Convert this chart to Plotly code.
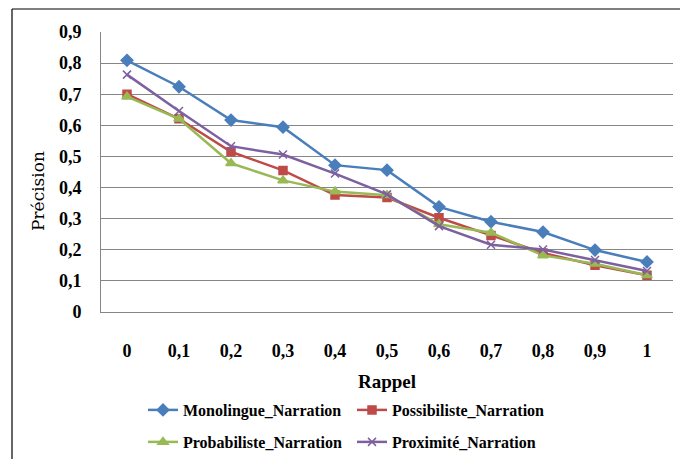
import plotly.graph_objects as go

rappel = ["0", "0,1", "0,2", "0,3", "0,4", "0,5", "0,6", "0,7", "0,8", "0,9", "1"]
monolingue = [0.809, 0.724, 0.617, 0.594, 0.472, 0.456, 0.338, 0.290, 0.257, 0.199, 0.161]
possibiliste = [0.700, 0.621, 0.515, 0.455, 0.376, 0.368, 0.303, 0.246, 0.190, 0.150, 0.118]
probabiliste = [0.692, 0.621, 0.478, 0.423, 0.387, 0.375, 0.282, 0.255, 0.182, 0.155, 0.118]
proximite = [0.763, 0.646, 0.533, 0.506, 0.445, 0.378, 0.276, 0.216, 0.201, 0.167, 0.132]

series = [
    ("Monolingue_Narration", monolingue, "#4A7EBB", "diamond", 9, "legend"),
    ("Possibiliste_Narration", possibiliste, "#BE4B48", "square", 8, "legend"),
    ("Probabiliste_Narration", probabiliste, "#98B954", "triangle-up", 9, "legend2"),
    ("Proximité_Narration", proximite, "#7D60A0", "x-thin-open", 8, "legend2"),
]

fig = go.Figure()
for name, vals, col, sym, sz, lg in series:
    fig.add_trace(go.Scatter(
        x=rappel, y=vals, name=name, mode="lines+markers", legend=lg,
        line=dict(color=col, width=2.5),
        marker=dict(symbol=sym, size=sz, color=col, line=dict(color=col, width=1.5)),
    ))

W, H = 680, 459
L, R, T, B = 101, 7, 32, 147
pw, ph = W - L - R, H - T - B

def px(x):
    return (x - L) / pw

def py(y):
    return (H - B - y) / ph

legfont = dict(family="Liberation Serif", size=16, color="black", weight="bold")
legcommon = dict(orientation="h", xanchor="left", yanchor="middle",
                 entrywidth=164, entrywidthmode="pixels", font=legfont, itemwidth=30,
                 bgcolor="rgba(0,0,0,0)")

fig.update_layout(
    width=W, height=H,
    margin=dict(l=L, r=R, t=T, b=B, autoexpand=False),
    paper_bgcolor="white", plot_bgcolor="white",
    separators=", ",
    font=dict(family="Liberation Serif", color="black"),
    showlegend=True,
    legend=dict(x=px(143), y=py(410), **legcommon),
    legend2=dict(x=px(143), y=py(442), **legcommon),
    xaxis=dict(
        type="category", range=[-0.5, len(rappel) - 0.5],
        showgrid=False, showline=True, linecolor="#868686", linewidth=1,
        ticks="", tickfont=dict(family="Liberation Serif", size=18, weight="bold"),
        ticklabelstandoff=22,
    ),
    yaxis=dict(
        range=[0, 0.9], dtick=0.1, showgrid=True, gridcolor="#868686", gridwidth=1,
        showline=True, linecolor="#868686", linewidth=1, zeroline=False,
        ticks="", tickfont=dict(family="Liberation Serif", size=18, weight="bold"),
        ticklabelstandoff=15,
    ),
    annotations=[
        dict(text="Rappel", x=0.5, y=py(381), xref="paper", yref="paper", showarrow=False,
             font=dict(family="Liberation Serif", size=19, weight="bold"), yanchor="middle"),
        dict(text="Précision", x=px(38), y=py(191), xref="paper", yref="paper", showarrow=False,
             textangle=-90, font=dict(family="DejaVu Serif", size=17), xanchor="center", yanchor="middle"),
    ],
    shapes=[
        dict(type="line", xref="paper", yref="paper", x0=px(12), x1=px(12), y0=py(9), y1=py(470),
             line=dict(color="black", width=1.2)),
        dict(type="line", xref="paper", yref="paper", x0=px(12), x1=px(690), y0=py(9), y1=py(9),
             line=dict(color="black", width=1.2)),
    ],
)

fig.write_html("out.html", config={"displayModeBar": False},
               post_script="document.body.style.margin='0';document.body.style.overflow='hidden';")
